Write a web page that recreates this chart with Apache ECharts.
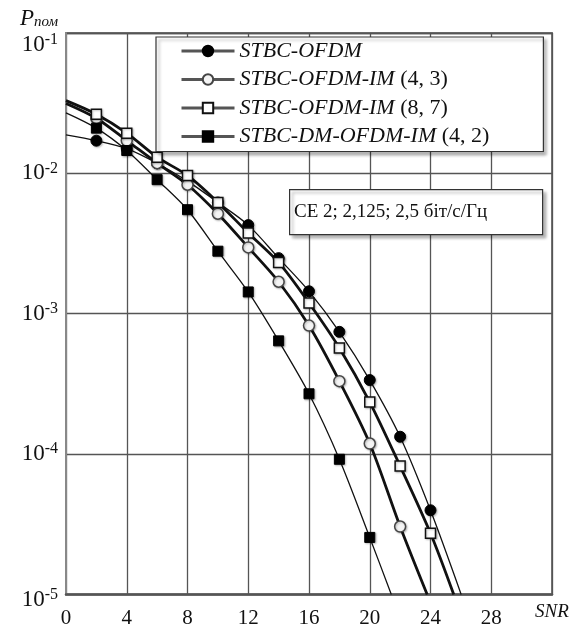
<!DOCTYPE html>
<html>
<head>
<meta charset="utf-8">
<script src="https://cdn.jsdelivr.net/npm/echarts@6/dist/echarts.min.js"></script>
<style>
html,body{margin:0;padding:0;background:#fff;}
#chart{width:584px;height:629px;}
</style>
</head>
<body>
<div id="chart"></div>
<script>
// ---- data ----
const seriesNames = ['STBC-OFDM', 'STBC-OFDM-IM (4, 3)', 'STBC-OFDM-IM (8, 7)', 'STBC-DM-OFDM-IM (4, 2)'];
const snrPoints = [2, 4, 6, 8, 10, 12, 14, 16, 18, 20, 22, 24];
const ofdmVals = [0.0171, 0.0150, 0.0118, 0.0088, 0.0062, 0.00428, 0.00249, 0.001445, 0.000743, 0.000337, 0.000133, 0.0000398];
const im43Vals = [0.0247, 0.01714, 0.01183, 0.0083, 0.00516, 0.00297, 0.00169, 0.000824, 0.000331, 0.000119, 0.0000305];
const im87Vals = [0.0264, 0.01935, 0.01305, 0.00966, 0.00621, 0.00376, 0.00232, 0.001194, 0.000571, 0.000235, 0.0000822, 0.0000273];
const dmVals = [0.0210, 0.01455, 0.00902, 0.00551, 0.00279, 0.00143, 0.000641, 0.000269, 0.0000919, 0.0000255];
// fitted curve: value at SNR 0 and SNR where it reaches 1e-5
const curveStartVals = [0.0188, 0.0315, 0.0330, 0.0270];
const curveEndSnr = [26.02, 23.78, 25.53, 21.42];
const xTicks = [0, 4, 8, 12, 16, 20, 24, 28, 32];
const annotationText = 'CE 2; 2,125; 2,5 біт/с/Гц';

const serif = '"Liberation Serif", "Times New Roman", serif';
const allVals = [ofdmVals, im43Vals, im87Vals, dmVals];

function buildData(k) {
  const d = [{ value: [0, curveStartVals[k]], symbol: 'none' }];
  allVals[k].forEach((v, i) => d.push([snrPoints[i], v]));
  d.push({ value: [curveEndSnr[k], 1e-5], symbol: 'none' });
  return d;
}

const markerStyles = [
  { symbol: 'circle', symbolSize: 11, itemStyle: { color: '#000', borderColor: '#000', borderWidth: 1 }, width: 1.3 },
  { symbol: 'circle', symbolSize: 11, itemStyle: { color: '#f4f4f4', borderColor: '#444', borderWidth: 1.5 }, width: 2.8 },
  { symbol: 'rect', symbolSize: 10, itemStyle: { color: '#fff', borderColor: '#111', borderWidth: 1.5 }, width: 2.8 },
  { symbol: 'rect', symbolSize: 10, itemStyle: { color: '#000', borderColor: '#000', borderWidth: 1 }, width: 1.3 }
];

const series = seriesNames.map((name, k) => ({
  name: name,
  type: 'line',
  data: buildData(k),
  smooth: 0.3,
  symbol: markerStyles[k].symbol,
  symbolSize: markerStyles[k].symbolSize,
  showSymbol: true,
  itemStyle: Object.assign({ shadowColor: 'rgba(0,0,0,0.25)', shadowBlur: 2, shadowOffsetX: 1, shadowOffsetY: 1 }, markerStyles[k].itemStyle),
  lineStyle: { color: '#111', width: markerStyles[k].width },
  emphasis: { disabled: true },
  z: 3
}));

// labels 10^-1 and 10^-5 sit a little lower than their grid lines in the reference
function yLabel(v) {
  const e = Math.round(Math.log10(v));
  const main = '{b|10}{e|' + e + '}';
  if (e === -1) return '{g1| }\n' + main;
  if (e === -5) return '{g5| }\n' + main;
  return main;
}

const chart = echarts.init(document.getElementById('chart'), null, { renderer: 'canvas' });
chart.setOption({
  animation: false,
  backgroundColor: '#fff',
  grid: { left: 66, right: 32, top: 33, bottom: 34, show: true, borderColor: '#777', borderWidth: 2, backgroundColor: 'transparent' },
  xAxis: {
    type: 'value', min: 0, max: 32, interval: 4,
    axisLine: { show: true, lineStyle: { color: '#555', width: 2.5 } },
    axisTick: { show: false },
    splitLine: { show: true, lineStyle: { color: '#555', width: 1.3 } },
    axisLabel: {
      margin: 12,
      formatter: function (v) { return v === 32 ? '{s|SNR}' : '{n|' + v + '}'; },
      rich: {
        n: { fontSize: 21, fontFamily: serif, color: '#111', lineHeight: 24 },
        s: { fontSize: 19, fontFamily: serif, fontStyle: 'italic', color: '#111', lineHeight: 10 }
      }
    }
  },
  yAxis: {
    type: 'log', logBase: 10, min: 1e-5, max: 0.1, interval: 1,
    name: '{p|P}{s|пом}',
    nameLocation: 'end',
    nameGap: 3,
    nameMoveOverlap: false,
    nameTextStyle: {
      align: 'right', verticalAlign: 'bottom', padding: [0, 8, 0, 0],
      rich: {
        p: { fontSize: 23, fontFamily: serif, fontStyle: 'italic', color: '#111', lineHeight: 22, verticalAlign: 'bottom' },
        s: { fontSize: 15, fontFamily: serif, fontStyle: 'italic', color: '#111', lineHeight: 18, verticalAlign: 'bottom' }
      }
    },
    axisLine: { show: true, lineStyle: { color: '#888', width: 2 } },
    axisTick: { show: false },
    minorTick: { show: false },
    splitLine: { show: true, lineStyle: { color: '#555', width: 1.3 } },
    axisLabel: {
      margin: 8,
      formatter: yLabel,
      rich: {
        b: { fontSize: 23, fontFamily: serif, color: '#111', lineHeight: 26 },
        e: { fontSize: 16, fontFamily: serif, color: '#111', lineHeight: 23, verticalAlign: 'top' },
        g1: { fontSize: 10, lineHeight: 24 },
        g5: { fontSize: 6, lineHeight: 10 }
      }
    }
  },
  legend: {
    orient: 'vertical',
    left: 156, top: 37,
    padding: [3, 54, 4, 24],
    itemWidth: 53, itemHeight: 13, itemGap: 6.5,
    backgroundColor: '#fff',
    borderColor: '#333', borderWidth: 1.2,
    shadowColor: 'rgba(0,0,0,0.3)', shadowBlur: 3, shadowOffsetX: 3, shadowOffsetY: 3,
    lineStyle: { color: '#555', width: 3 },
    data: seriesNames,
    selectedMode: false,
    formatter: function (name) {
      const i = name.indexOf(' (');
      if (i < 0) return '{i|' + name + '}';
      return '{i|' + name.slice(0, i) + ' }{r|' + name.slice(i + 1) + '}';
    },
    textStyle: {
      rich: {
        i: { fontSize: 22, fontFamily: serif, fontStyle: 'italic', color: '#111', lineHeight: 24 },
        r: { fontSize: 22, fontFamily: serif, color: '#111', lineHeight: 24 }
      }
    }
  },
  graphic: [
    {
      type: 'rect', left: 289, top: 189, z: 10,
      shape: { width: 253, height: 45 },
      style: { fill: '#fff', stroke: '#333', lineWidth: 1.2, shadowColor: 'rgba(0,0,0,0.3)', shadowBlur: 3, shadowOffsetX: 3, shadowOffsetY: 3 }
    },
    {
      type: 'text', x: 294, y: 212, z: 11,
      style: { text: annotationText, font: '19px ' + serif, fill: '#111', verticalAlign: 'middle', align: 'left' }
    }
  ],
  series: series
});
</script>
</body>
</html>
